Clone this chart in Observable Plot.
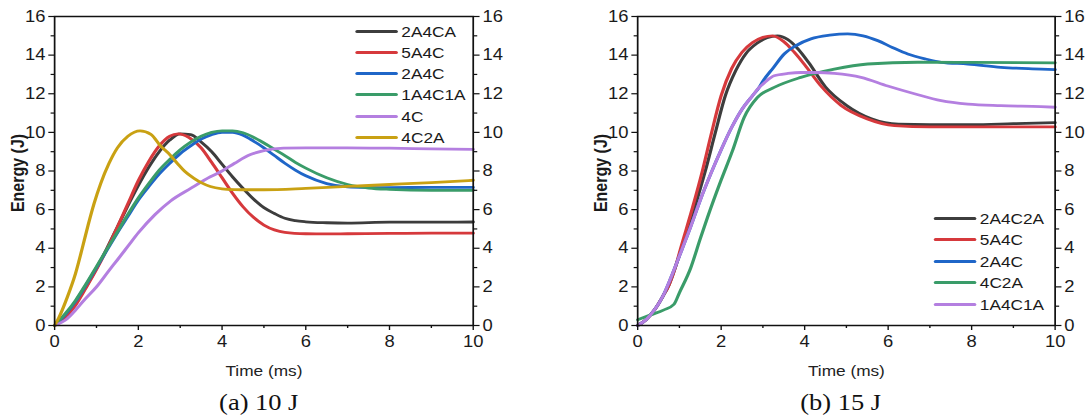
<!DOCTYPE html>
<html>
<head>
<meta charset="utf-8">
<script src="https://cdn.jsdelivr.net/npm/d3@7"></script>
<script src="https://cdn.jsdelivr.net/npm/@observablehq/plot@0.6"></script>
<style>
  body { margin: 0; background: #fff; }
  /* the figure is laid out narrow and widened as a whole */
  #page { position: relative; width: 947px; height: 420px; transform: scaleX(1.15); transform-origin: 0 0;
          font-family: "Liberation Sans", Arial, sans-serif; color: #1a1a1a; }
  .panel { position: absolute; top: 0; }
  .legend { position: absolute; font-size: 15px; color: #1a1a1a; }
  .legend .row { position: absolute; left: 0; height: 20px; display: flex; align-items: center; white-space: nowrap; }
  .legend .swatch { width: 37px; height: 3px; border-radius: 1.5px; margin-right: 3px; }
  .caption { position: absolute; font-family: "Liberation Serif", "Times New Roman", serif; font-size: 23px;
             line-height: 26px; color: #111; transform: translateX(-50%); white-space: nowrap; }
</style>
</head>
<body>
<div id="page"></div>
<script>
// ---- axis ticks ----
const xMajor = [0, 2, 4, 6, 8, 10];
const xMinor = [1, 3, 5, 7, 9];
const yMajor = [0, 2, 4, 6, 8, 10, 12, 14, 16];
const yMinor = [1, 3, 5, 7, 9, 11, 13, 15];

// ---- (a) 10 J : time (ms) and absorbed energy (J) ----
const a_2A4CA_t = [0,0.25,0.5,0.75,1,1.25,1.5,1.75,2,2.25,2.5,2.75,3,3.25,3.5,3.75,4,4.25,4.5,4.75,5,5.25,5.5,5.75,6,6.5,7,8,9,10];
const a_2A4CA_e = [0,0.45,1.15,2.0,2.95,4.0,5.1,6.2,7.25,8.2,9.0,9.6,9.92,9.88,9.5,9.0,8.35,7.7,7.1,6.55,6.1,5.8,5.55,5.43,5.37,5.32,5.3,5.35,5.35,5.36];

const a_5A4C_t = [0,0.25,0.5,0.75,1,1.25,1.5,1.75,2,2.25,2.5,2.75,2.95,3.2,3.5,3.75,4,4.25,4.5,4.75,5,5.25,5.5,6,6.5,7,8,9,10];
const a_5A4C_e = [0,0.4,1.05,1.95,2.9,3.95,5.1,6.3,7.5,8.5,9.3,9.8,9.92,9.75,9.2,8.45,7.65,6.85,6.15,5.6,5.2,4.95,4.82,4.75,4.74,4.75,4.77,4.78,4.78];

const a_2A4C_t = [0,0.25,0.5,0.75,1,1.25,1.5,1.75,2,2.25,2.5,2.75,3,3.25,3.5,3.75,4,4.25,4.5,4.75,5,5.25,5.5,5.75,6,6.5,7,7.5,8,9,10];
const a_2A4C_e = [0,0.55,1.25,2.1,3.0,3.9,4.8,5.65,6.5,7.2,7.85,8.4,8.9,9.3,9.65,9.88,10.0,10.0,9.85,9.55,9.2,8.8,8.4,8.05,7.75,7.35,7.18,7.15,7.14,7.15,7.15];

const a_1A4C1A_t = [0,0.25,0.5,0.75,1,1.25,1.5,1.75,2,2.25,2.5,2.75,3,3.25,3.5,3.75,4,4.25,4.5,4.75,5,5.25,5.5,5.75,6,6.5,7,7.5,8,9,10];
const a_1A4C1A_e = [0,0.6,1.3,2.15,3.05,3.95,4.85,5.75,6.6,7.35,8.05,8.6,9.1,9.5,9.8,10.0,10.08,10.08,9.98,9.75,9.45,9.12,8.8,8.45,8.15,7.65,7.3,7.12,7.05,7.0,7.0];

const a_4C_t = [0,0.3,0.5,0.7,1,1.3,1.5,1.75,2,2.4,2.77,3.25,3.72,4,4.3,4.68,5,5.47,6,7,8,9,10];
const a_4C_e = [0,0.35,0.8,1.3,2.0,2.85,3.4,4.1,4.8,5.75,6.45,7.1,7.7,8.0,8.4,8.85,9.05,9.18,9.2,9.2,9.18,9.15,9.12];

const a_4C2A_t = [0,0.1,0.3,0.5,0.66,0.8,0.94,1.1,1.3,1.5,1.75,2.04,2.3,2.53,2.75,2.93,3.1,3.33,3.5,3.72,4,4.3,4.6,5,6,7,8,9,10];
const a_4C2A_e = [0,0.4,1.45,2.7,4.0,5.2,6.3,7.35,8.4,9.2,9.8,10.08,9.9,9.3,8.85,8.4,8.0,7.62,7.4,7.2,7.08,7.04,7.03,7.03,7.1,7.2,7.3,7.4,7.52];

// ---- (b) 15 J ----
const b_2A4C2A_t = [0,0.2,0.4,0.6,0.75,0.9,1.05,1.35,1.62,1.85,2.1,2.35,2.6,2.85,3.1,3.35,3.6,3.85,4.1,4.5,5.0,5.6,6.25,7,8,9,10];
const b_2A4C2A_e = [0,0.3,0.8,1.5,2.1,3.0,4.0,6.0,8.0,9.9,11.9,13.2,14.1,14.6,14.9,15.0,14.8,14.3,13.6,12.35,11.4,10.7,10.42,10.4,10.4,10.45,10.5];

const b_5A4C_t = [0,0.2,0.4,0.6,0.75,0.9,1.03,1.3,1.55,1.75,2,2.25,2.5,2.75,3,3.23,3.5,3.75,4,4.39,4.87,5.5,6.15,7,8,9,10];
const b_5A4C_e = [0,0.3,0.8,1.5,2.1,3.0,4.0,6.0,8.0,9.8,11.9,13.3,14.15,14.65,14.92,15.0,14.7,14.15,13.5,12.4,11.4,10.7,10.35,10.28,10.28,10.28,10.28];

const b_2A4C_t = [0,0.2,0.4,0.6,0.8,1,1.25,1.5,1.75,2,2.25,2.5,2.75,2.9,3.0,3.25,3.51,3.8,4.15,4.6,5.03,5.4,5.75,6.1,6.47,6.9,7.27,7.91,8.7,9.66,10];
const b_2A4C_e = [0,0.3,0.8,1.5,2.5,3.6,5.0,6.5,7.85,9.1,10.25,11.2,11.9,12.3,12.65,13.35,14.06,14.5,14.84,15.03,15.1,15.0,14.75,14.4,14.06,13.8,13.63,13.54,13.37,13.28,13.25];

const b_4C2A_t = [0,0.31,0.63,0.87,1.0,1.27,1.5,1.67,1.99,2.27,2.55,2.87,3.27,3.91,4.71,5.51,6.71,8,10];
const b_4C2A_e = [0.3,0.55,0.81,1.1,1.7,2.98,4.5,5.58,7.48,9.04,10.77,11.81,12.33,12.85,13.28,13.54,13.63,13.62,13.6];

const b_1A4C1A_t = [0,0.2,0.4,0.6,0.8,1,1.25,1.5,1.75,2,2.25,2.5,2.75,2.9,3.05,3.27,3.6,3.91,4.3,4.71,5.35,5.99,6.63,7.27,7.91,8.7,9.66,10];
const b_1A4C1A_e = [0,0.3,0.8,1.5,2.5,3.6,5.0,6.5,7.85,9.1,10.25,11.2,11.9,12.3,12.6,12.93,13.05,13.1,13.1,13.05,12.85,12.4,12.0,11.64,11.46,11.38,11.33,11.3];

// ---- series (legend order = drawing order) ----
const C = { black: "#3d3d3d", red: "#d6393c", blue: "#1f66c8", green: "#3a9c69", purple: "#b47fe0", gold: "#c9a113" };

const seriesA = [
  { name: "2A4CA",  t: a_2A4CA_t,  e: a_2A4CA_e,  color: C.black },
  { name: "5A4C",   t: a_5A4C_t,   e: a_5A4C_e,   color: C.red },
  { name: "2A4C",   t: a_2A4C_t,   e: a_2A4C_e,   color: C.blue },
  { name: "1A4C1A", t: a_1A4C1A_t, e: a_1A4C1A_e, color: C.green },
  { name: "4C",     t: a_4C_t,     e: a_4C_e,     color: C.purple },
  { name: "4C2A",   t: a_4C2A_t,   e: a_4C2A_e,   color: C.gold }
];
const seriesB = [
  { name: "2A4C2A", t: b_2A4C2A_t, e: b_2A4C2A_e, color: C.black },
  { name: "5A4C",   t: b_5A4C_t,   e: b_5A4C_e,   color: C.red },
  { name: "2A4C",   t: b_2A4C_t,   e: b_2A4C_e,   color: C.blue },
  { name: "4C2A",   t: b_4C2A_t,   e: b_4C2A_e,   color: C.green },
  { name: "1A4C1A", t: b_1A4C1A_t, e: b_1A4C1A_e, color: C.purple }
];

const page = document.getElementById("page");

function drawPanel({ series, left, width, marginLeft, marginRight, legend, caption, captionX }) {
  const rows = series.flatMap(s => s.t.map((t, i) => ({ t, e: s.e[i], name: s.name })));
  const axisStyle = { stroke: "#111", fill: "none", strokeWidth: 1.2 };
  const chart = Plot.plot({
    width, height: 385,
    marginLeft, marginRight, marginTop: 16, marginBottom: 60,
    style: { fontFamily: "'Liberation Sans', Arial, sans-serif", fontSize: "16px", color: "#1a1a1a", background: "transparent", overflow: "visible" },
    x: { domain: [0, 10] },
    y: { domain: [0, 16] },
    color: { domain: series.map(s => s.name), range: series.map(s => s.color) },
    marks: [
      Plot.line(rows, { x: "t", y: "e", z: "name", stroke: "name", strokeWidth: 2.8, curve: "monotone-x", strokeLinecap: "round", strokeLinejoin: "round" }),
      Plot.frame({ stroke: "#111", strokeWidth: 1.5 }),
      // left axis
      Plot.axisY({ anchor: "left", ticks: yMajor, tickSize: 5, tickPadding: 3, label: null, tickFormat: d => d, fill: "#1a1a1a", stroke: "#111", strokeWidth: 1.2 }),
      Plot.axisY({ anchor: "left", ticks: yMinor, tickSize: 3, label: null, ...axisStyle }),
      // right axis
      Plot.axisY({ anchor: "right", ticks: yMajor, tickSize: 5, tickPadding: 3, label: null, tickFormat: d => d, fill: "#1a1a1a", stroke: "#111", strokeWidth: 1.2 }),
      Plot.axisY({ anchor: "right", ticks: yMinor, tickSize: 3, label: null, ...axisStyle }),
      // bottom axis
      Plot.axisX({ anchor: "bottom", ticks: xMajor, tickSize: 5, tickPadding: 5, label: null, tickFormat: d => d, fill: "#1a1a1a", stroke: "#111", strokeWidth: 1.2 }),
      Plot.axisX({ anchor: "bottom", ticks: xMinor, tickSize: 3, label: null, ...axisStyle }),
      // axis titles
      Plot.text(["Time (ms)"], { frameAnchor: "bottom", textAnchor: "middle", lineAnchor: "middle", dy: 46, fontSize: 15, fill: "#222" }),
      Plot.text(["Energy (J)"], { frameAnchor: "left", textAnchor: "middle", lineAnchor: "top", rotate: -90, dx: -38, dy: 2, fontSize: 16, fontWeight: "bold", fill: "#1a1a1a" })
    ]
  });
  const wrap = document.createElement("div");
  wrap.className = "panel";
  wrap.style.left = left + "px";
  wrap.appendChild(chart);
  page.appendChild(wrap);

  const lg = document.createElement("div");
  lg.className = "legend";
  lg.style.left = (left + legend.x) + "px";
  lg.style.top = "0px";
  series.forEach((s, i) => {
    const row = document.createElement("div");
    row.className = "row";
    row.style.top = (legend.y + i * legend.step - 10) + "px";
    const sw = document.createElement("div");
    sw.className = "swatch";
    sw.style.background = s.color;
    const label = document.createElement("span");
    label.textContent = s.name;
    row.appendChild(sw);
    row.appendChild(label);
    lg.appendChild(row);
  });
  page.appendChild(lg);

  const cap = document.createElement("div");
  cap.className = "caption";
  cap.style.left = (left + captionX) + "px";
  cap.style.top = "390px";
  cap.textContent = caption;
  page.appendChild(cap);
}

drawPanel({ series: seriesA, left: 0, width: 451, marginLeft: 47, marginRight: 40,
            legend: { x: 309, y: 31, step: 21.3 }, caption: "(a) 10 J", captionX: 225 });
drawPanel({ series: seriesB, left: 474, width: 473, marginLeft: 80, marginRight: 30,
            legend: { x: 338, y: 218, step: 21.5 }, caption: "(b) 15 J", captionX: 257 });
</script>
</body>
</html>
